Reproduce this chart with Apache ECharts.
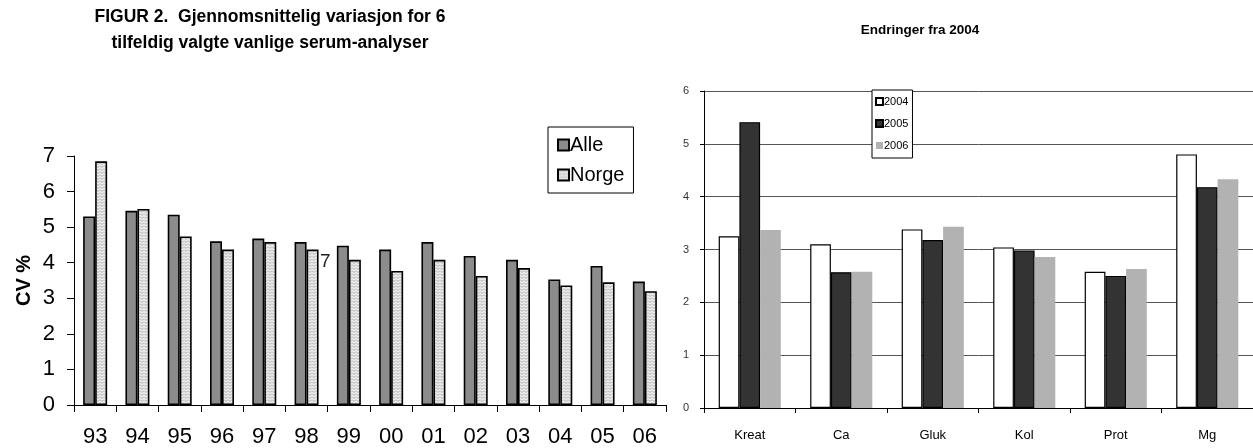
<!DOCTYPE html>
<html><head><meta charset="utf-8">
<script src="https://cdn.jsdelivr.net/npm/echarts@6/dist/echarts.min.js"></script>
<style>html,body{margin:0;padding:0;background:#fff;overflow:hidden}#c{width:1253px;height:448px}</style>
</head><body><div id="c"></div>
<script>
// Left chart data
var years = ['93','94','95','96','97','98','99','00','01','02','03','04','05','06'];
var alle  = [5.30,5.46,5.35,4.60,4.68,4.58,4.48,4.37,4.58,4.19,4.08,3.53,3.91,3.47];
var norge = [6.85,5.51,4.74,4.37,4.58,4.37,4.08,3.77,4.08,3.63,3.85,3.36,3.45,3.20];
// Right chart data
var analytes = ['Kreat','Ca','Gluk','Kol','Prot','Mg'];
var v2004 = [3.25,3.10,3.38,3.04,2.58,4.80];
var v2005 = [5.41,2.57,3.18,2.98,2.50,4.18];
var v2006 = [3.37,2.58,3.43,2.86,2.63,4.33];

var pc = document.createElement('canvas');
pc.width = 4; pc.height = 3;
var g = pc.getContext('2d');
g.fillStyle = '#efefef'; g.fillRect(0,0,4,3);
g.strokeStyle = '#a0a0a0'; g.lineWidth = 0.9;
g.beginPath(); g.moveTo(0,0.5); g.lineTo(2,2.5); g.lineTo(4,0.5); g.stroke();

var F = 'Liberation Sans, Arial, sans-serif';
var chart = echarts.init(document.getElementById('c'), null, {renderer:'canvas'});
chart.setOption({
  animation:false,
  textStyle:{fontFamily:F},
  graphic:[
    {type:'text', x:270, y:17, style:{text:'FIGUR 2.  Gjennomsnittelig variasjon for 6', textAlign:'center', textVerticalAlign:'middle', font:'bold 17.5px '+F, fill:'#000'}},
    {type:'text', x:270, y:43, style:{text:'tilfeldig valgte vanlige serum-analyser', textAlign:'center', textVerticalAlign:'middle', font:'bold 17.5px '+F, fill:'#000'}},
    {type:'text', x:920, y:30, style:{text:'Endringer fra 2004', textAlign:'center', textVerticalAlign:'middle', font:'bold 13.5px '+F, fill:'#000'}},
    {type:'text', x:320, y:262, style:{text:'7', textAlign:'left', textVerticalAlign:'middle', font:'19px '+F, fill:'#222'}}
  ],
  legend:[
    {data:['Alle','Norge'], orient:'vertical', left:548, top:127, padding:[8,9,8,9], itemGap:10,
     itemWidth:11, itemHeight:11, borderColor:'#000', borderWidth:1, backgroundColor:'#fff',
     textStyle:{fontSize:20, color:'#000', padding:[0,0,0,-4]}, icon:'rect'},
    {data:['2004','2005','2006'], orient:'vertical', left:872, top:90, padding:[6,4,7,3], itemGap:11,
     itemWidth:7, itemHeight:7, borderColor:'#000', borderWidth:1, backgroundColor:'#fff',
     textStyle:{fontSize:11, color:'#000', padding:[0,0,0,-4]}, icon:'rect'}
  ],
  grid:[
    {left:74, top:156, width:592, height:251},
    {left:704, top:91, width:558, height:317}
  ],
  xAxis:[
    {type:'category', gridIndex:0, data:years,
     axisLine:{lineStyle:{color:'#000', width:1}},
     axisTick:{show:true, alignWithLabel:false, length:7, lineStyle:{color:'#000'}},
     axisLabel:{fontSize:22, color:'#000', margin:21}},
    {type:'category', gridIndex:1, data:analytes,
     axisLine:{lineStyle:{color:'#000', width:1}},
     axisTick:{show:true, length:5, lineStyle:{color:'#000'}},
     axisLabel:{fontSize:13, color:'#000', margin:21}}
  ],
  yAxis:[
    {type:'value', gridIndex:0, min:0, max:7, interval:1,
     name:'CV %', nameLocation:'middle', nameGap:40, nameRotate:90,
     nameTextStyle:{fontSize:20, fontWeight:'bold', color:'#000'},
     axisLine:{show:true, lineStyle:{color:'#000'}},
     axisTick:{show:true, length:7, inside:false, lineStyle:{color:'#000'}},
     splitLine:{show:false},
     axisLabel:{fontSize:22, color:'#000', margin:19}},
    {type:'value', gridIndex:1, min:0, max:6, interval:1,
     axisLine:{show:true, lineStyle:{color:'#000'}},
     axisTick:{show:true, length:4, lineStyle:{color:'#000'}},
     splitLine:{show:true, lineStyle:{color:'#555', width:1}},
     axisLabel:{fontSize:11, color:'#333', margin:15}}
  ],
  series:[
    {name:'Alle', type:'bar', xAxisIndex:0, yAxisIndex:0, data:alle, barWidth:12, barGap:'0%',
     itemStyle:{color:'#8c8c8c', borderColor:'#000', borderWidth:1.6}},
    {name:'Norge', type:'bar', xAxisIndex:0, yAxisIndex:0, data:norge, barWidth:12, barGap:'0%',
     itemStyle:{color:{image:pc, repeat:'repeat'}, borderColor:'#000', borderWidth:1.6}},
    {name:'2004', type:'bar', xAxisIndex:1, yAxisIndex:1, data:v2004, barWidth:20.7, barGap:'0%',
     itemStyle:{color:'#fff', borderColor:'#000', borderWidth:1.2}},
    {name:'2005', type:'bar', xAxisIndex:1, yAxisIndex:1, data:v2005, barWidth:20.7, barGap:'0%',
     itemStyle:{color:'#333', borderColor:'#000', borderWidth:1.2}},
    {name:'2006', type:'bar', xAxisIndex:1, yAxisIndex:1, data:v2006, barWidth:20.7, barGap:'0%',
     itemStyle:{color:'#b2b2b2', borderWidth:0}}
  ]
});
</script></body></html>
